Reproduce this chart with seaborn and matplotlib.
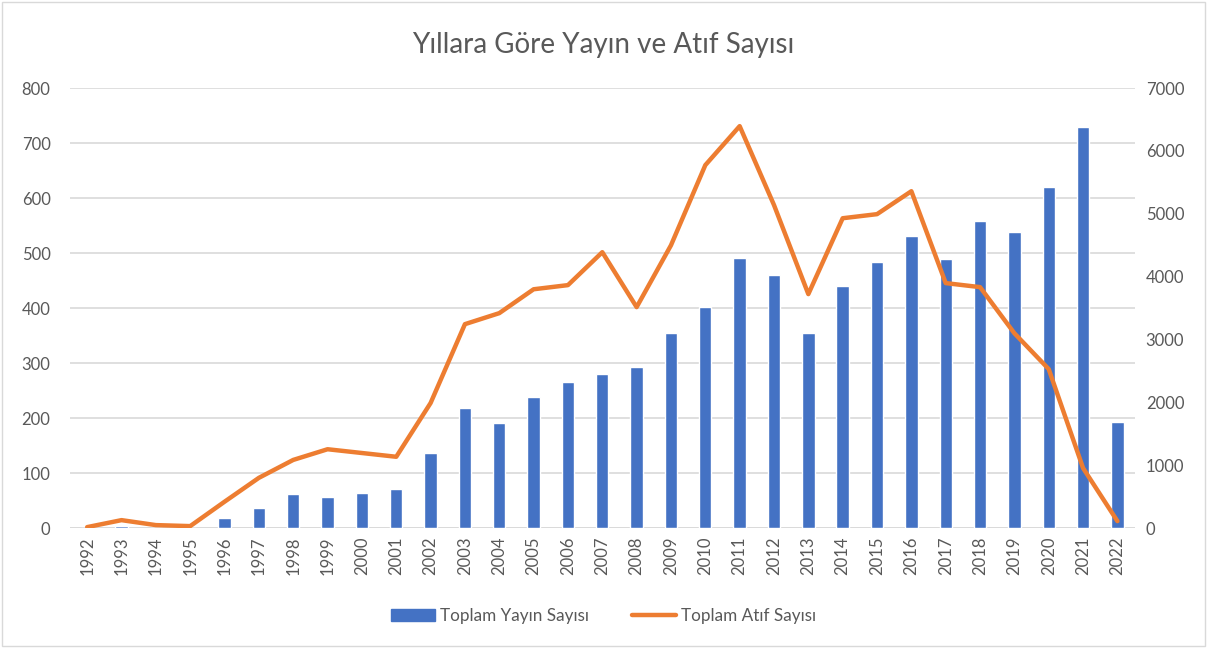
import numpy as np
import pandas as pd
import matplotlib
matplotlib.use("Agg")
import matplotlib.pyplot as plt
from matplotlib.patches import Rectangle
from matplotlib.lines import Line2D
import seaborn as sns

# Values
years = list(range(1992, 2023))
yayin = [0, 3, 0, 0, 18, 36, 62, 56, 63, 71, 136, 218, 191, 238, 265, 280, 293,
         355, 402, 491, 460, 355, 440, 484, 531, 489, 558, 538, 620, 729, 193]
atif = [16, 127, 48, 32, 420, 800, 1085, 1255, 1195, 1135, 1990, 3245, 3420, 3800,
        3866, 4390, 3516, 4500, 5775, 6395, 5140, 3723, 4930, 4995, 5360, 3898,
        3834, 3100, 2530, 955, 111]
left_ticks = [0, 100, 200, 300, 400, 500, 600, 700, 800]
right_ticks = [0, 1000, 2000, 3000, 4000, 5000, 6000, 7000]

df = pd.DataFrame({"yil": [str(y) for y in years], "yayin": yayin, "atif": atif})
df["pos"] = np.arange(len(df))

sns.set_style("white")
plt.rcParams["font.family"] = ["Lato", "DejaVu Sans"]
text_color = "#595959"
bar_color = "#4472C4"
line_color = "#ED7D31"

fig = plt.figure(figsize=(12.07, 6.48), dpi=100)
ax = fig.add_axes([0.058, 0.185, 0.882, 0.679])

sns.barplot(data=df, x="yil", y="yayin", color=bar_color, width=0.36,
            saturation=1, ax=ax, zorder=2)
ax2 = ax.twinx()
sns.lineplot(data=df, x="pos", y="atif", color=line_color, linewidth=3.2,
             ax=ax2, zorder=3)

ax.set_xlim(-0.5, len(years) - 0.5)
ax.set_ylim(0, 800)
ax2.set_ylim(0, 7000)
ax.set_yticks(left_ticks)
ax2.set_yticks(right_ticks)
ax.yaxis.grid(True, color="#d9d9d9", linewidth=1.2, zorder=0)
ax.set_axisbelow(True)

for a in (ax, ax2):
    a.set_xlabel("")
    a.set_ylabel("")
    for s in a.spines.values():
        s.set_visible(False)
    a.tick_params(length=0, labelsize=12, labelcolor=text_color)
ax.tick_params(axis="x", rotation=90, pad=6)
ax.tick_params(axis="y", pad=14)
ax2.tick_params(axis="y", pad=8)
ax.axhline(0, color="#d9d9d9", linewidth=1.2, zorder=1)

fig.suptitle("Yıllara Göre Yayın ve Atıf Sayısı", y=0.95, fontsize=20,
             color=text_color)

handles = [Rectangle((0, 0), 1, 1, color=bar_color),
           Line2D([], [], color=line_color, linewidth=3.2)]
fig.legend(handles, ["Toplam Yayın Sayısı", "Toplam Atıf Sayısı"],
           loc="center", bbox_to_anchor=(0.5, 0.05), ncol=2, frameon=False,
           fontsize=12.3, labelcolor=text_color, handlelength=2.6,
           handletextpad=0.3, columnspacing=2.5)

fig.patches.append(Rectangle((0.002, 0.003), 0.996, 0.994, transform=fig.transFigure,
                             fill=False, edgecolor="#d9d9d9", linewidth=1))

fig.savefig("out.png", dpi=100)
